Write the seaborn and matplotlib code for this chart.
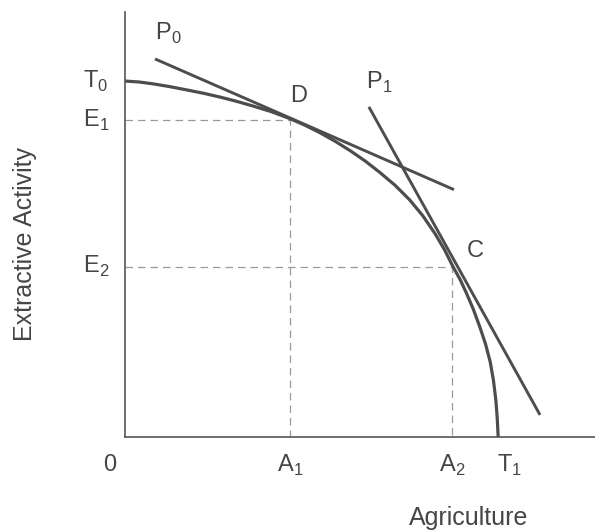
import numpy as np
import seaborn as sns
import matplotlib.pyplot as plt

# transformation curve T0 -> T1
curve_x = [0.0, 0.30, 0.60, 0.96, 1.32, 1.67, 2.02, 2.37, 2.72, 3.11, 3.51, 3.83, 4.15, 4.47,
           4.79, 5.11, 5.43, 5.75, 6.06, 6.34, 6.60, 6.80, 6.98, 7.13, 7.26, 7.41, 7.55, 7.67,
           7.77, 7.84, 7.89, 7.92, 7.94]
curve_y = [7.57, 7.55, 7.51, 7.45, 7.38, 7.31, 7.23, 7.14, 7.04, 6.92, 6.77, 6.63, 6.47, 6.29,
           6.09, 5.87, 5.62, 5.35, 5.04, 4.70, 4.32, 3.98, 3.62, 3.35, 3.07, 2.72, 2.34, 1.98,
           1.60, 1.20, 0.79, 0.40, 0.0]

# price lines P0 (tangent at D) and P1 (tangent at C)
p0_x = [0.64, 7.00]
p0_y = [8.04, 5.26]
p1_x = [5.19, 8.83]
p1_y = [7.02, 0.47]

# points D and C, axis marks
A1, E1 = 3.51, 6.74
A2, E2 = 6.96, 3.62
T0, T1 = 7.57, 7.94

sns.set_style('white')
plt.rcParams['font.family'] = ['Liberation Sans', 'DejaVu Sans']
plt.rcParams['mathtext.fontset'] = 'custom'
plt.rcParams['mathtext.rm'] = 'Liberation Sans'

line_col = '#4d4d4d'
text_col = '#454545'
dash_col = '#9a9a9a'

fig = plt.figure(figsize=(5.95, 5.32), dpi=100)
ax = fig.add_axes([0.210, 0.1786, 0.790, 0.799])

# dashed guides
guide = dict(sort=False, estimator=None, color=dash_col, lw=0.9, ls=(0, (6, 4)), ax=ax)
sns.lineplot(x=[0, A1, A1], y=[E1, E1, 0], **guide)
sns.lineplot(x=[0, A2, A2], y=[E2, E2, 0], **guide)

solid = dict(sort=False, estimator=None, color=line_col, ax=ax, solid_capstyle='butt')
sns.lineplot(x=curve_x, y=curve_y, lw=2.3, **solid)
sns.lineplot(x=p0_x, y=p0_y, lw=2.1, **solid)
sns.lineplot(x=p1_x, y=p1_y, lw=2.1, **solid)

ax.set_xlim(0, 10.0)
ax.set_ylim(0, 9.04)
sns.despine(ax=ax)
for s in ['left', 'bottom']:
    ax.spines[s].set_color('#555555')
    ax.spines[s].set_linewidth(1.2)

ax.set_xticks([])
ax.set_yticks([])

fs = 17
ax.text(-0.32, -0.60, '0', ha='center', va='center', fontsize=fs, color=text_col)
ax.text(A1, -0.60, r'A$_\mathregular{1}$', ha='center', va='center', fontsize=fs, color=text_col)
ax.text(A2, -0.60, r'A$_\mathregular{2}$', ha='center', va='center', fontsize=fs, color=text_col)
ax.text(T1 + 0.25, -0.60, r'T$_\mathregular{1}$', ha='center', va='center', fontsize=fs, color=text_col)
ax.text(-0.62, T0, r'T$_\mathregular{0}$', ha='center', va='center', fontsize=fs, color=text_col)
ax.text(-0.62, E1, r'E$_\mathregular{1}$', ha='center', va='center', fontsize=fs, color=text_col)
ax.text(-0.62, E2, r'E$_\mathregular{2}$', ha='center', va='center', fontsize=fs, color=text_col)
ax.text(0.92, 8.58, r'P$_\mathregular{0}$', ha='center', va='center', fontsize=fs, color=text_col)
ax.text(5.40, 7.55, r'P$_\mathregular{1}$', ha='center', va='center', fontsize=fs, color=text_col)
ax.text(3.70, 7.25, 'D', ha='center', va='center', fontsize=fs, color=text_col)
ax.text(7.45, 3.95, 'C', ha='center', va='center', fontsize=fs, color=text_col)

ax.text(7.32, -1.72, 'Agriculture', ha='center', va='center', fontsize=fs + 1, color=text_col)
ax.text(-2.13, 4.10, 'Extractive Activity', ha='center', va='center', rotation=90,
        fontsize=fs + 1, color=text_col)

fig.savefig('out.png', dpi=100)
